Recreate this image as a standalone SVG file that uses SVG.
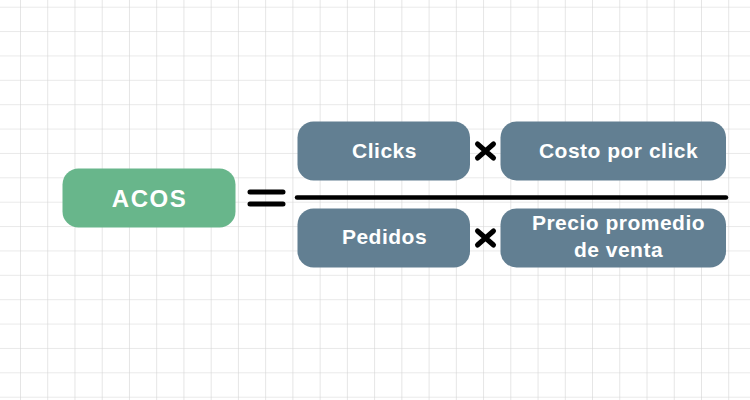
<svg xmlns="http://www.w3.org/2000/svg" width="750" height="400" viewBox="0 0 750 400">
  <style>
    .acos { fill: #68b68b; }
    .term { fill: #627f92; }
    .lbl { font-family: "Liberation Sans", Arial, sans-serif; font-weight: bold; fill: #ffffff; text-anchor: middle; }
    .t { font-size: 21px; letter-spacing: 0.5px; }
    .op { stroke: #000000; stroke-linecap: round; fill: none; }
  </style>
  <defs>
    <pattern id="grid" x="20" y="6.7" width="27.24" height="24.375" patternUnits="userSpaceOnUse">
      <path d="M0 0 V24.375 M0 0 H27.24" stroke="#d4d4d4" stroke-width="1.2" fill="none"/>
    </pattern>
  </defs>
  <rect width="750" height="400" fill="#ffffff"/>
  <rect width="750" height="400" fill="url(#grid)"/>

  <g id="acos">
    <rect class="acos" x="62.5" y="168.5" width="173" height="59" rx="16"/>
    <text class="lbl" x="149.5" y="207" font-size="24" letter-spacing="1.5">ACOS</text>
  </g>

  <g id="connectors">
    <path class="op" d="M250 192 H283 M250 204 H283" stroke-width="5"/>
    <path class="op" d="M297 197.5 H726" stroke-width="4.5" stroke-linecap="butt"/>
    <path class="op" d="M477.5 144 L493.5 158 M493.5 144 L477.5 158" stroke-width="5"/>
    <path class="op" d="M477.5 231 L493.5 245 M493.5 231 L477.5 245" stroke-width="5"/>
  </g>

  <g id="clicks">
    <rect class="term" x="297.5" y="121.5" width="172.5" height="59" rx="16"/>
    <text class="lbl t" x="384.5" y="157.5">Clicks</text>
  </g>
  <g id="costo">
    <rect class="term" x="500.5" y="121.5" width="225.5" height="59" rx="16"/>
    <text class="lbl t" x="618.5" y="157.5">Costo por click</text>
  </g>
  <g id="pedidos">
    <rect class="term" x="297.5" y="208.5" width="172.5" height="59" rx="16"/>
    <text class="lbl t" x="384.5" y="244">Pedidos</text>
  </g>
  <g id="precio">
    <rect class="term" x="500.5" y="208.5" width="225.5" height="59" rx="16"/>
    <text class="lbl t" x="618.5" y="229.5">Precio promedio</text>
    <text class="lbl t" x="618.5" y="257">de venta</text>
  </g>
</svg>
